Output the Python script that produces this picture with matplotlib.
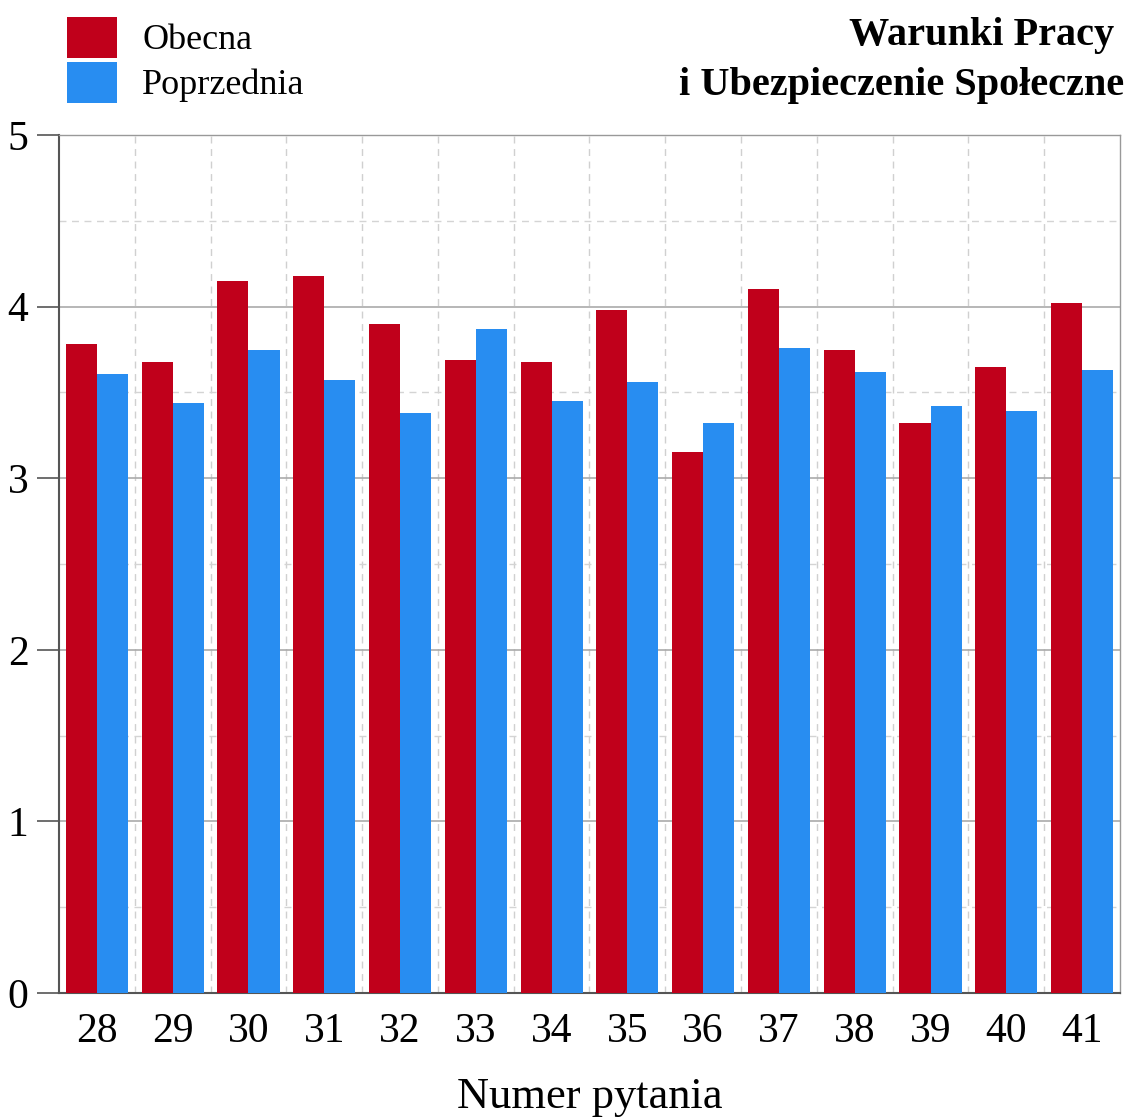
import matplotlib
matplotlib.use("Agg")
import matplotlib.pyplot as plt
import numpy as np
from matplotlib.patches import Rectangle
from matplotlib.ticker import MultipleLocator, FixedLocator

categories = ["28", "29", "30", "31", "32", "33", "34", "35", "36", "37", "38", "39", "40", "41"]
obecna = [3.78, 3.68, 4.15, 4.18, 3.90, 3.69, 3.68, 3.98, 3.15, 4.10, 3.75, 3.32, 3.65, 4.02]
poprzednia = [3.61, 3.44, 3.75, 3.57, 3.38, 3.87, 3.45, 3.56, 3.32, 3.76, 3.62, 3.42, 3.39, 3.63]
series_names = ["Obecna", "Poprzednia"]
title_lines = ["Warunki Pracy", "i Ubezpieczenie Społeczne"]
xlabel = "Numer pytania"

RED = "#C0001B"
BLUE = "#288DF1"
colors = [RED, BLUE]

plt.rcParams['font.family'] = ['Liberation Serif', 'DejaVu Serif']

W, H = 1128, 1119
fig = plt.figure(figsize=(W / 100, H / 100), dpi=100)
ax = fig.add_axes([59/W, 1 - 993/H, (1120-59)/W, (993-135)/H])

x = np.arange(len(categories))
w = 0.41
ax.bar(x - w/2, obecna, width=w, color=RED, zorder=3)
ax.bar(x + w/2, poprzednia, width=w, color=BLUE, zorder=3)

ax.set_xlim(-0.5, len(categories) - 0.5)
ax.set_ylim(0, 5)
ax.yaxis.set_major_locator(MultipleLocator(1))
ax.yaxis.set_minor_locator(MultipleLocator(0.5))
ax.set_xticks(x)
ax.set_xticklabels(categories)
ax.xaxis.set_minor_locator(FixedLocator(np.arange(0.5, len(categories) - 0.5, 1)))

ax.grid(axis='y', which='major', color='#aaaaaa', linewidth=1.2, zorder=0)
ax.grid(axis='y', which='minor', color='#d4d4d4', linestyle=(0, (5, 4)), linewidth=1.0, zorder=0)
ax.grid(axis='x', which='minor', color='#d0d0d0', linestyle=(0, (5, 4)), linewidth=1.0, zorder=0)
ax.set_axisbelow(True)

ax.tick_params(axis='y', which='major', length=16, width=1.2, color='#555555', labelsize=30, pad=6)
ax.tick_params(axis='y', which='minor', length=0)
ax.tick_params(axis='x', which='both', length=0, labelsize=30, pad=14)

for side in ['left', 'bottom']:
    ax.spines[side].set_color('#555555')
    ax.spines[side].set_linewidth(1.5)
for side in ['top', 'right']:
    ax.spines[side].set_color('#999999')
    ax.spines[side].set_linewidth(1.0)

fig.text((59 + 1120) / 2 / W, 1 - 1097/H, xlabel, ha='center', va='center', fontsize=32)

# Legend (manual, in figure pixel positions)
box_tops = [17, 62]
baselines = [49, 94]
for name, col, top, base in zip(series_names, colors, box_tops, baselines):
    fig.patches.append(Rectangle((67/W, 1 - (top + 41)/H), 50/W, 41/H,
                                 transform=fig.transFigure, facecolor=col, edgecolor='none'))
    fig.text(142/W, 1 - base/H, name, ha='left', va='baseline', fontsize=26)

fig.text(1114/W, 1 - 45/H, title_lines[0], ha='right', va='baseline', fontsize=29, fontweight='bold')
fig.text(1124/W, 1 - 95/H, title_lines[1], ha='right', va='baseline', fontsize=29, fontweight='bold')

fig.savefig("out.png", dpi=100)
